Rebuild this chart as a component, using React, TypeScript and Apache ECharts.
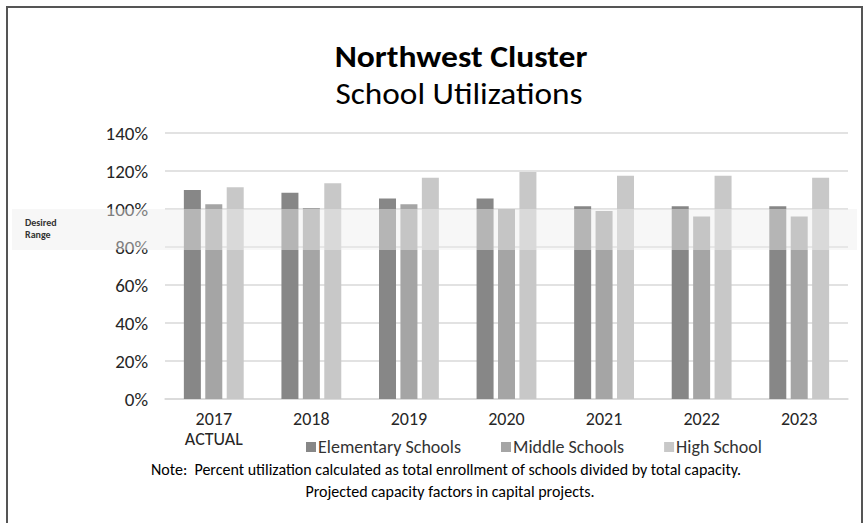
import React, { useEffect, useRef } from "react";
import * as echarts from "echarts";

const categories = ["2017\nACTUAL", "2018", "2019", "2020", "2021", "2022", "2023"];
const elementary = [110, 108.5, 105.5, 105.5, 101.5, 101.5, 101.5];
const middle = [102.5, 100.5, 102.5, 100, 99, 96, 96];
const high = [111.5, 113.5, 116.5, 119.5, 117.5, 117.5, 116.5];
const seriesNames = ["Elementary Schools", "Middle Schools", "High School"];
const desiredRange = [80, 100];
const titleText = "Northwest Cluster";
const subtitleText = "School Utilizations";
const noteLines = [
  "Note:  Percent utilization calculated as total enrollment of schools divided by total capacity.",
  "Projected capacity factors in capital projects.",
];

const FONT = "Carlito, Lato, sans-serif";

export default function App() {
  const ref = useRef<HTMLDivElement>(null);
  useEffect(() => {
    if (!ref.current) return;
    const chart = echarts.init(ref.current, undefined, { renderer: "svg" });
    const colors = ["#878787", "#a5a5a5", "#c8c8c8"];
    const data = [elementary, middle, high];
    chart.setOption({
      animation: false,
      backgroundColor: "#ffffff",
      textStyle: { fontFamily: FONT },
      grid: { left: 165, right: 19, top: 133, bottom: 124, containLabel: false },
      legend: {
        left: 301,
        top: 433,
        itemWidth: 10,
        itemHeight: 10,
        itemGap: 40,
        icon: "rect",
        data: seriesNames,
        textStyle: { fontFamily: FONT, fontSize: 18, color: "#333333", padding: [0, 0, 0, -3] },
      },
      xAxis: {
        type: "category",
        data: categories,
        axisLine: { lineStyle: { color: "#d9d9d9", width: 1.5 } },
        axisTick: { show: false },
        axisLabel: { fontFamily: FONT, fontSize: 18, color: "#262626", margin: 10, lineHeight: 20 },
      },
      yAxis: {
        type: "value",
        min: 0,
        max: 140,
        interval: 20,
        axisLine: { show: false },
        axisTick: { show: false },
        splitLine: { lineStyle: { color: "#d9d9d9", width: 1.5 } },
        axisLabel: { formatter: "{value}%", fontFamily: FONT, fontSize: 19, color: "#262626", margin: 17 },
      },
      series: data.map((d, i) => ({
        name: seriesNames[i],
        type: "bar",
        data: d,
        barWidth: 17,
        barGap: "26%",
        itemStyle: { color: colors[i] },
      })),
    });

    const y100 = chart.convertToPixel({ yAxisIndex: 0 }, desiredRange[1]) as number;
    const y80 = chart.convertToPixel({ yAxisIndex: 0 }, desiredRange[0]) as number;
    chart.setOption({
      graphic: [
        {
          type: "polyline",
          shape: { points: [[7, 530], [7, 7], [862, 7], [862, 530]] },
          style: { stroke: "#555555", lineWidth: 2, fill: null },
          z: 20,
        },
        {
          type: "rect",
          shape: { x: 12, y: y100, width: 845, height: y80 - y100 + 3 },
          style: { fill: "rgba(237,237,237,0.45)" },
          z: 10,
        },
        {
          type: "text",
          x: 25,
          y: 216,
          style: {
            text: "Desired\nRange",
            font: `bold 10px ${FONT}`,
            fill: "#333333",
            lineHeight: 12,
          },
          z: 11,
        },
        {
          type: "text",
          x: 461,
          y: 57,
          scaleX: 1.12,
          style: {
            text: titleText,
            font: `bold 30px ${FONT}`,
            fill: "#000000",
            textAlign: "center",
            textVerticalAlign: "middle",
          },
        },
        {
          type: "text",
          x: 459,
          y: 94,
          scaleX: 1.11,
          style: {
            text: subtitleText,
            font: `30px ${FONT}`,
            fill: "#000000",
            textAlign: "center",
            textVerticalAlign: "middle",
          },
        },
        {
          type: "text",
          x: 446,
          y: 469,
          style: {
            text: noteLines[0],
            font: `16px ${FONT}`,
            fill: "#000000",
            textAlign: "center",
            textVerticalAlign: "middle",
          },
        },
        {
          type: "text",
          x: 450,
          y: 491,
          style: {
            text: noteLines[1],
            font: `16px ${FONT}`,
            fill: "#000000",
            textAlign: "center",
            textVerticalAlign: "middle",
          },
        },
      ],
    });
    return () => chart.dispose();
  }, []);
  return (
    <div
      ref={ref}
      style={{ position: "fixed", left: 0, top: 0, width: 867, height: 523 }}
    />
  );
}
